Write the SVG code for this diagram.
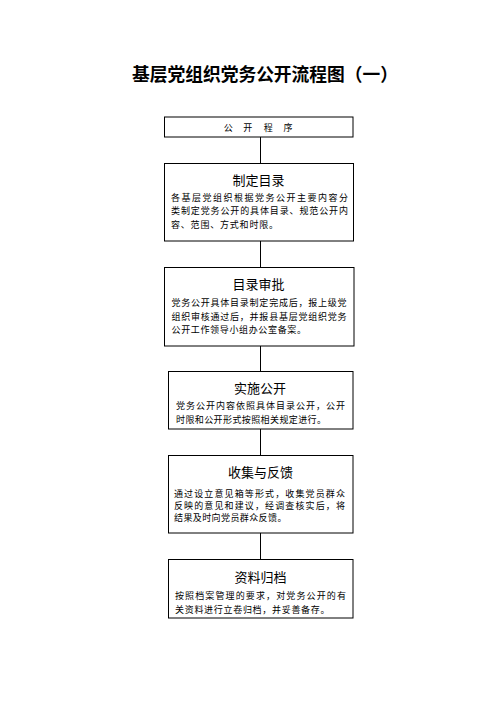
<svg xmlns="http://www.w3.org/2000/svg" width="496" height="702" viewBox="0 0 496 702">
<style>
text{font-family:"Noto Sans CJK SC","Liberation Sans",sans-serif;fill:#000;dominant-baseline:central}
.box{fill:#fff;stroke:#000;stroke-width:1}
.ttl{font-size:13px;text-anchor:middle}
.body{font-size:9px}
.hdr{font-size:9px;text-anchor:middle}
.main{font-size:18px;font-weight:bold}
#connectors line{stroke:#000;stroke-width:1}
</style>
<rect width="496" height="702" fill="#fff"/>
<text class="main" x="132" y="72.5" textLength="266" lengthAdjust="spacingAndGlyphs">基层党组织党务公开流程图（一）</text>
<g id="connectors">
<line x1="260.5" y1="137" x2="260.5" y2="163"/>
<line x1="260.5" y1="241" x2="260.5" y2="267"/>
<line x1="260.5" y1="346" x2="260.5" y2="371"/>
<line x1="260.5" y1="429" x2="260.5" y2="455"/>
<line x1="260.5" y1="533" x2="260.5" y2="559"/>
</g>
<g id="node-header">
<rect class="box" x="164.5" y="117" width="188.5" height="20"/>
<text class="hdr" x="228.3" y="127">公</text>
<text class="hdr" x="247.8" y="127">开</text>
<text class="hdr" x="268.3" y="127">程</text>
<text class="hdr" x="288" y="127">序</text>
</g>
<g id="node-mulu">
<rect class="box" x="164.5" y="163.5" width="189" height="77.5"/>
<text class="ttl" x="258.5" y="179">制定目录</text>
<text class="body" x="171" y="197" textLength="177" lengthAdjust="spacing">各基层党组织根据党务公开主要内容分</text>
<text class="body" x="171" y="210.5" textLength="177" lengthAdjust="spacing">类制定党务公开的具体目录、规范公开内</text>
<text class="body" x="171" y="224" letter-spacing="0.8">容、范围、方式和时限。</text>
</g>
<g id="node-shenpi">
<rect class="box" x="164.5" y="267.5" width="189.5" height="78.5"/>
<text class="ttl" x="258.5" y="283">目录审批</text>
<text class="body" x="171.5" y="302.7" textLength="175" lengthAdjust="spacing">党务公开具体目录制定完成后，报上级党</text>
<text class="body" x="171.5" y="316" textLength="175" lengthAdjust="spacing">组织审核通过后，并报县基层党组织党务</text>
<text class="body" x="171.5" y="329.3" letter-spacing="0.65">公开工作领导小组办公室备案。</text>
</g>
<g id="node-shishi">
<rect class="box" x="168.5" y="371.5" width="184.5" height="57.5"/>
<text class="ttl" x="260" y="387.7">实施公开</text>
<text class="body" x="176" y="405.7" textLength="169" lengthAdjust="spacing">党务公开内容依照具体目录公开，公开</text>
<text class="body" x="176" y="419" letter-spacing="0.4">时限和公开形式按照相关规定进行。</text>
</g>
<g id="node-shouji">
<rect class="box" x="168.5" y="455.5" width="184.5" height="77.5"/>
<text class="ttl" x="260.5" y="471">收集与反馈</text>
<text class="body" x="174" y="493.3" textLength="171" lengthAdjust="spacing">通过设立意见箱等形式，收集党员群众</text>
<text class="body" x="174" y="505.6" textLength="171" lengthAdjust="spacing">反映的意见和建议，经调查核实后，将</text>
<text class="body" x="174" y="517.9" letter-spacing="0.4">结果及时向党员群众反馈。</text>
</g>
<g id="node-guidang">
<rect class="box" x="168.5" y="559.5" width="184.5" height="58.5"/>
<text class="ttl" x="260.5" y="576">资料归档</text>
<text class="body" x="175" y="595" textLength="171" lengthAdjust="spacing">按照档案管理的要求，对党务公开的有</text>
<text class="body" x="175" y="609" letter-spacing="0.7">关资料进行立卷归档，并妥善备存。</text>
</g>
</svg>
